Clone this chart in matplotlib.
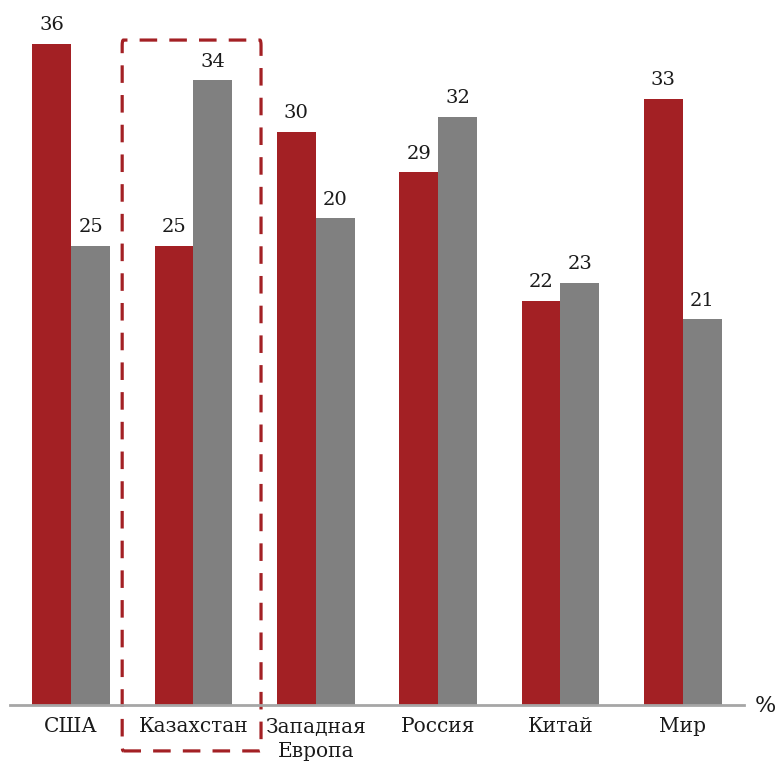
import numpy as np
import matplotlib.pyplot as plt
from matplotlib.patches import FancyBboxPatch

categories = ['США', 'Казахстан', 'Западная\nЕвропа', 'Россия', 'Китай', 'Мир']
# высоты столбцов, как они нарисованы на исходной картинке
red_vals = [36, 25, 31.2, 29, 22, 33]
gray_vals = [25, 34, 26.5, 32, 23, 21]
# подписи над столбцами
red_labels = ['36', '25', '30', '29', '22', '33']
gray_labels = ['25', '34', '20', '32', '23', '21']

red = '#A32024'
gray = '#808080'

plt.rcParams['font.family'] = ['DejaVu Serif']

fig = plt.figure(figsize=(7.76, 7.68), dpi=100)
ax = fig.add_axes([10 / 776, 63 / 768, 734 / 776, 698 / 768])

x = np.arange(len(categories))
w = 0.318

b1 = ax.bar(x - w / 2, red_vals, w, color=red)
b2 = ax.bar(x + w / 2, gray_vals, w, color=gray)

for bars, labels in ((b1, red_labels), (b2, gray_labels)):
    for rect, lab in zip(bars, labels):
        ax.annotate(lab, (rect.get_x() + rect.get_width() / 2, rect.get_height()),
                    xytext=(0, 7), textcoords='offset points',
                    ha='center', va='bottom', fontsize=14, color='#1a1a1a')

ax.set_xlim(-0.5, 5.5)
ax.set_ylim(0, 38)
ax.set_xticks(x)
ax.set_xticklabels(categories, fontsize=14.5, color='#1a1a1a', linespacing=1.35)
ax.tick_params(axis='x', length=0, pad=9)
ax.set_yticks([])

for s in ['left', 'right', 'top']:
    ax.spines[s].set_visible(False)
ax.spines['bottom'].set_color('#A6A6A6')
ax.spines['bottom'].set_linewidth(2)

# выделение Казахстана пунктирной рамкой
box = FancyBboxPatch((0.417, -2.5), 1.135, 38.7,
                     boxstyle='round,pad=0,rounding_size=0.01',
                     fill=False, edgecolor=red, linewidth=2.3,
                     linestyle=(0, (5.5, 3.8)), clip_on=False,
                     mutation_aspect=30)
ax.add_patch(box)

fig.text(765 / 776, (768 - 706) / 768, '%', ha='center', va='center',
         fontsize=16, color='#1a1a1a')

fig.savefig('out.png', dpi=100)
